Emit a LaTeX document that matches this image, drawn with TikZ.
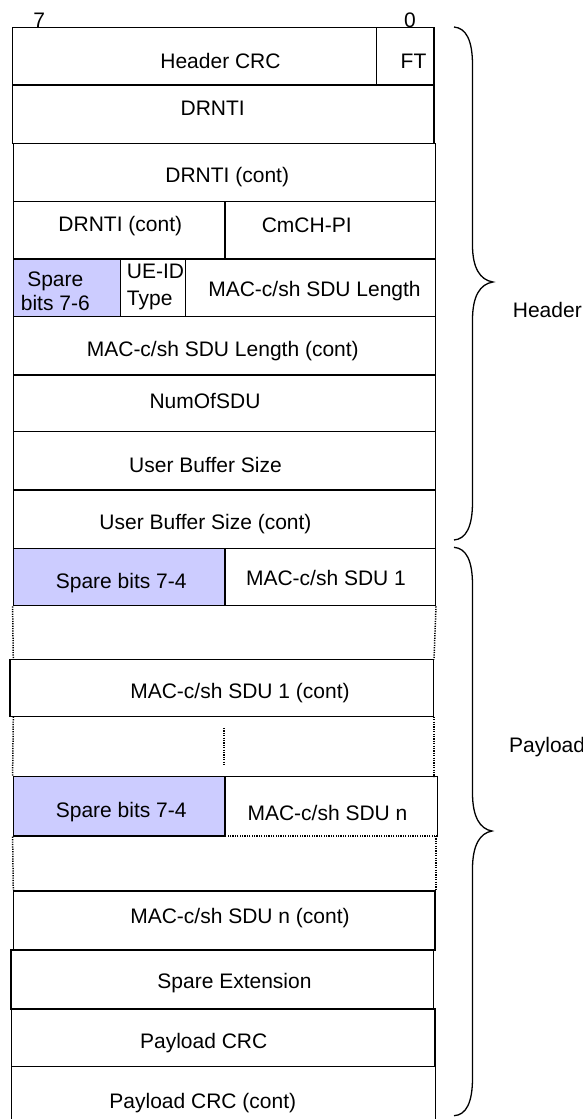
\documentclass[tikz,border=0pt]{standalone}
\usepackage{fontspec}
\setmainfont{Liberation Sans}
\usetikzlibrary{fit}
\definecolor{sparefill}{RGB}{204,204,255}
\begin{document}
\begin{tikzpicture}[x=1pt,y=-1pt,
  field/.style={draw=black,line width=1.4pt,inner sep=0pt,rectangle},
  frame/.style={inner sep=0pt,rectangle},
  sparebox/.style={field,fill=sparefill},
  edge/.style={draw=black,line width=1.4pt},
  dotline/.style={draw=black,line width=1.5pt,dash pattern=on 1.2pt off 1.2pt},
  txt/.style={inner sep=0pt,anchor=base,font=\fontsize{21}{24}\selectfont},
  bracepath/.style={draw=black,line width=1.3pt}]
\useasboundingbox (0,0) rectangle (583,1119);
% bit numbers
\node[txt] (b7) at (39.3,27.5) {7};
\node[txt] (b0) at (410,27.5) {0};
% header rows
\node[field,fit={(12.7,27.7) (376.7,85)}] (hcrc) {};
\node[field,fit={(376.7,27.7) (434,85)}] (ft) {};
\node[field,fit={(12.7,85) (434,143.3)}] (drnti) {};
\node[field,fit={(13.3,143.3) (435.3,201.7)}] (drntic) {};
\node[field,fit={(13.3,201.7) (225,259)}] (drntid) {};
\node[field,fit={(225,201.7) (435.3,259)}] (cmch) {};
\node[sparebox,fit={(13.3,259) (120.7,316.7)}] (spa) {};
\node[field,fit={(120.7,259) (185.7,316.7)}] (ueid) {};
\node[field,fit={(185.7,259) (435.3,316.7)}] (len) {};
\node[field,fit={(13.3,316.7) (435.3,375)}] (lenc) {};
\node[field,fit={(13.3,375) (435.3,431.7)}] (num) {};
\node[field,fit={(13.3,431.7) (435.3,490)}] (ubs) {};
\node[field,fit={(13.3,490) (435.3,548.3)}] (ubsc) {};
% payload rows
\node[sparebox,fit={(13.3,548.3) (225,605.7)}] (spb) {};
\node[field,fit={(225,548.3) (435.3,605.7)}] (sdu1) {};
\node[field,fit={(10,659.3) (433.3,716.7)}] (sdu1c) {};
\node[sparebox,fit={(13.3,776.7) (225,836)}] (spc) {};
\node[frame,fit={(225,776.7) (437.3,836)}] (sdun) {};
\draw[edge] (sdun.south west) -- (sdun.north west) -- (sdun.north east) -- (sdun.south east);
\draw[dotline] (sdun.south east) -- (sdun.south west);
\node[field,fit={(13.3,891) (435,950)}] (sdunc) {};
\node[field,fit={(11,950) (433.3,1009)}] (spext) {};
\node[field,fit={(11.7,1009) (435,1066.7)}] (pcrc) {};
\node[frame,fit={(11.7,1066.7) (435,1119)}] (pcrcc) {};
\draw[edge] (pcrcc.south west) -- (pcrcc.north west) -- (pcrcc.north east) -- (pcrcc.south east);
% dotted continuation lines
\coordinate (d1a) at (13.3,659.3);
\coordinate (d1b) at (434,659.3);
\draw[dotline] (spb.south west) -- (d1a);
\draw[dotline] (sdu1.south east) -- (d1b);
\coordinate (d2a) at (13.3,716.7);
\coordinate (d2b) at (434,716.7);
\draw[dotline] (d2a) -- (spc.north west);
\draw[dotline] (d2b) -- (434,776.7);
\coordinate (m1) at (224,728);
\coordinate (m2) at (224,765);
\draw[dotline] (m1) -- (m2);
\coordinate (d3a) at (13.3,890);
\coordinate (d3b) at (436,890);
\draw[dotline] (spc.south west) -- (d3a);
\draw[dotline] (436,836) -- (d3b);
% texts
\node[txt] (thcrc) at (220.5,68.3) {Header CRC};
\node[txt] (tft) at (413.5,68.3) {FT};
\node[txt] (tdrnti) at (212.7,115.7) {DRNTI};
\node[txt] (tdrntic) at (227.2,182.7) {DRNTI (cont)};
\node[txt] (tdrntid) at (120.3,231.7) {DRNTI (cont)};
\node[txt] (tcmch) at (306.7,232.3) {CmCH-PI};
\node[txt,align=center] (tspa) at (55.3,310.7) {Spare\\bits 7-6};
\node[txt,align=left,anchor=base west] (tueid) at (126.7,305) {UE-ID\\[2.7pt]Type};
\node[txt] (tlen) at (314.5,296.7) {MAC-c/sh SDU Length};
\node[txt] (tlenc) at (222.8,356.7) {MAC-c/sh SDU Length (cont)};
\node[txt] (tnum) at (205,408.3) {NumOfSDU};
\node[txt] (tubs) at (205.5,472.7) {User Buffer Size};
\node[txt] (tubsc) at (205.5,529) {User Buffer Size (cont)};
\node[txt] (tspb) at (121.2,588.3) {Spare bits 7-4};
\node[txt] (tsdu1) at (326,585) {MAC-c/sh SDU 1};
\node[txt] (tsdu1c) at (240,698.3) {MAC-c/sh SDU 1 (cont)};
\node[txt] (tspc) at (121.2,817.3) {Spare bits 7-4};
\node[txt] (tsdun) at (327.5,820) {MAC-c/sh SDU n};
\node[txt] (tsdunc) at (240,923.3) {MAC-c/sh SDU n (cont)};
\node[txt] (tspext) at (234.5,988.3) {Spare Extension};
\node[txt] (tpcrc) at (203.7,1048.3) {Payload CRC};
\node[txt] (tpcrcc) at (202.8,1108.3) {Payload CRC (cont)};
% braces
\draw[bracepath] (454,27) .. controls (466,28) and (472.5,40) .. (472.5,65)
  -- (472.5,245) .. controls (472.5,268) and (480,280) .. (493,282)
  .. controls (480,284) and (472.5,296) .. (472.5,320)
  -- (472.5,502) .. controls (472.5,527) and (466,539) .. (454,540);
\node[txt,anchor=base west] (lhead) at (512.7,317) {Header};
\draw[bracepath] (454,547.3) .. controls (466,548.3) and (472.5,560) .. (472.5,585)
  -- (472.5,793) .. controls (472.5,817) and (480,829) .. (492,831)
  .. controls (480,833) and (472.5,845) .. (472.5,869)
  -- (472.5,1078) .. controls (472.5,1103) and (466,1115) .. (454,1115.7);
\node[txt,anchor=base west] (lpay) at (509,752.3) {Payload};
\end{tikzpicture}
\end{document}
